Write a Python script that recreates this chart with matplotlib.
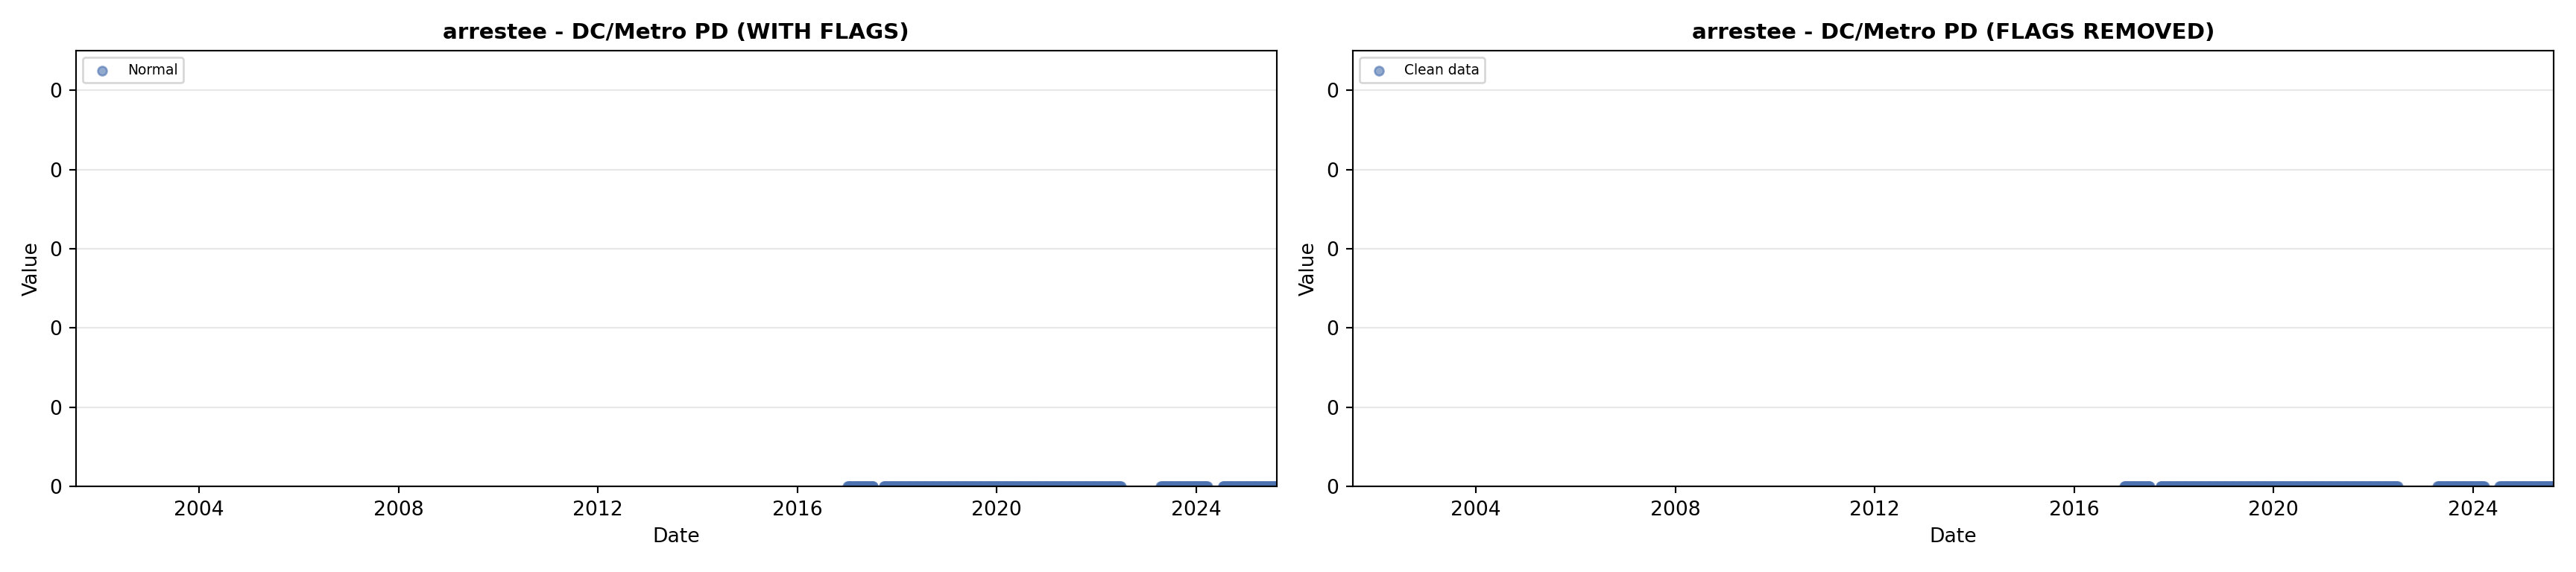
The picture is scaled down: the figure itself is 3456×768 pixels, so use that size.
import numpy as np
import pandas as pd
import matplotlib
matplotlib.use("Agg")
import matplotlib.pyplot as plt
import matplotlib.dates as mdates
from matplotlib.ticker import FuncFormatter

# periods with reported values (all values are 0)
seg_starts = ["2017-01-01", "2017-09-25", "2023-04-15", "2024-07-15"]
seg_ends = ["2017-07-10", "2022-07-05", "2024-03-25", "2025-08-10"]
seg_value = 0.0

x_min = "2001-07-10"
x_max = "2025-08-15"

titles = ["arrestee - DC/Metro PD (WITH FLAGS)", "arrestee - DC/Metro PD (FLAGS REMOVED)"]
labels = ["Normal", "Clean data"]

dates = pd.DatetimeIndex(np.concatenate(
    [pd.date_range(s, e, freq="5D").values for s, e in zip(seg_starts, seg_ends)]))
values = np.full(len(dates), seg_value)

fig, axes = plt.subplots(1, 2, figsize=(18, 4), dpi=192)
fig.subplots_adjust(left=0.0294, right=0.9913, bottom=0.1497, top=0.9115, wspace=0.063)

for ax, title, lab in zip(axes, titles, labels):
    ax.scatter(dates, values, s=20, color="#4C72B0", alpha=0.6, label=lab)
    ax.set_xlim(pd.Timestamp(x_min), pd.Timestamp(x_max))
    ax.set_ylim(bottom=0)
    ax.set_title(title, fontsize=11, fontweight="bold")
    ax.set_xlabel("Date")
    ax.set_ylabel("Value")
    ax.xaxis.set_major_locator(mdates.YearLocator(4))
    ax.xaxis.set_major_formatter(mdates.DateFormatter("%Y"))
    ax.yaxis.set_major_formatter(FuncFormatter(lambda v, p: f"{v:,.0f}"))
    ax.grid(True, axis="y", alpha=0.3)
    ax.legend(loc="upper left", fontsize=7)

fig.savefig("out.png", dpi=192)
